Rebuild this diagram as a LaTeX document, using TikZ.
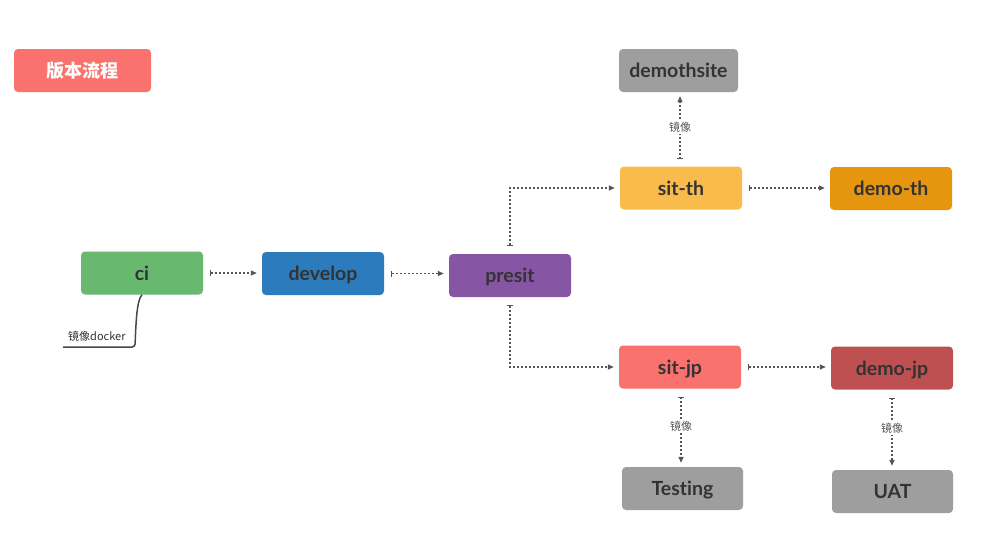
\documentclass[tikz,border=0pt]{standalone}
\usepackage{fontspec}
\setmainfont{Lato}[Ligatures=NoCommon]
\newfontfamily\cjk{Noto Sans CJK SC}
\usetikzlibrary{arrows.meta,calc}
\definecolor{salmon}{HTML}{F9726D}
\definecolor{cigreen}{HTML}{69B86F}
\definecolor{devblue}{HTML}{2B7BBD}
\definecolor{prepurple}{HTML}{8656A4}
\definecolor{boxgray}{HTML}{9E9E9E}
\definecolor{thyellow}{HTML}{F9BB4B}
\definecolor{thorange}{HTML}{E6950F}
\definecolor{jpred}{HTML}{BF5052}
\definecolor{txt}{HTML}{333333}
\definecolor{conncol}{HTML}{555555}
\tikzset{
  box/.style={rounded corners=4pt, minimum width=122pt, minimum height=43pt, inner sep=0pt,
    text height=17pt, text depth=3pt,
    text=txt, font=\fontsize{19.5}{21}\selectfont\bfseries},
  conn/.style={draw=conncol, line width=1.3pt, dash pattern=on 2pt off 2pt,
    {Bar[width=6pt,line width=1pt]}-{Triangle[length=6pt,width=5pt]}},
  lbl/.style={fill=white, inner sep=1.5pt, text=conncol, font=\cjk\fontsize{11}{12}\selectfont},
}
\begin{document}
\begin{tikzpicture}[x=1pt,y=-1pt]
\useasboundingbox[fill=white] (0,0) rectangle (1006,542);
\node[box, fill=salmon, minimum width=137pt, text=white, text height=14pt, text depth=0.4pt, font=\cjk\fontsize{18}{20}\selectfont\bfseries] (title) at (82.5,70.5) {版本流程};
\node[box, fill=cigreen] (ci) at (142,273) {ci};
\node[box, fill=devblue] (develop) at (323,273.5) {develop};
\node[box, fill=prepurple] (presit) at (510,275.5) {presit};
\node[box, fill=boxgray, minimum width=119pt] (demothsite) at (678.5,70.5) {demothsite};
\node[box, fill=thyellow] (sitth) at (681,188) {sit-th};
\node[box, fill=thorange] (demoth) at (891,188.5) {demo-th};
\node[box, fill=salmon] (sitjp) at (680,367) {sit-jp};
\node[box, fill=jpred] (demojp) at (892,368) {demo-jp};
\node[box, fill=boxgray, minimum width=121pt] (testing) at (682.5,488.5) {Testing};
\node[box, fill=boxgray, minimum width=121pt] (uat) at (892.5,491.5) {UAT};

\draw[conn] ([xshift=7pt]ci.east) -- ([xshift=-5pt]ci.east -| develop.west);
\draw[conn] ([xshift=7pt]develop.east) -- ([xshift=-5pt]develop.east -| presit.west);
\draw[conn] ([yshift=8pt]presit.north) |- ([xshift=-5pt]sitth.west);
\draw[conn] ([yshift=-8pt]presit.south) |- ([xshift=-5pt]sitjp.west);
\draw[conn] ([xshift=7pt]sitth.east) -- ([xshift=-5pt]sitth.east -| demoth.west);
\draw[conn] ([xshift=7pt]sitjp.east) -- ([xshift=-5pt]sitjp.east -| demojp.west);
\coordinate (thtop) at ([xshift=-1pt,yshift=7pt]sitth.north);
\draw[conn] (thtop) -- ([yshift=-4pt]thtop |- demothsite.south) node[lbl, pos=0.5] {镜像};
\coordinate (jpbot) at ([xshift=1pt,yshift=-8pt]sitjp.south);
\draw[conn] (jpbot) -- ([yshift=4pt]jpbot |- testing.north) node[lbl, pos=0.45] {镜像};
\coordinate (djbot) at ([yshift=-8pt]demojp.south);
\draw[conn] (djbot) -- ([yshift=4pt]djbot |- uat.north) node[lbl, pos=0.45] {镜像};

\coordinate (dk) at (63,347);
\draw[txt!90, line width=1.5pt, rounded corners=3pt] (ci.south) .. controls (137,300) and (136,320) .. (135,347) -- (dk);
\node[anchor=south west, inner sep=1pt, text=txt, font=\cjk\fontsize{11}{12}\selectfont] (dklbl) at (67,343) {镜像docker};
\end{tikzpicture}
\end{document}
